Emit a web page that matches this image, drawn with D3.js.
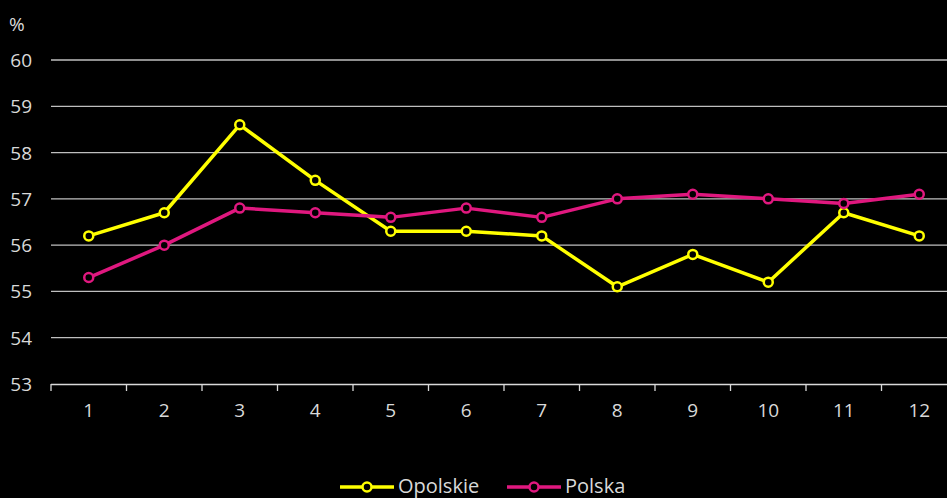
<!DOCTYPE html>
<html>
<head>
<meta charset="utf-8">
<script src="https://cdn.jsdelivr.net/npm/d3@7"></script>
<style>
  body { margin: 0; background: #000; }
  svg text { font-family: "Open Sans", sans-serif; fill: #d9d9d9; }
</style>
</head>
<body>
<svg id="chart" width="947" height="498"></svg>
<script>
// months 1..12
const months = ["1","2","3","4","5","6","7","8","9","10","11","12"]
const opolskie = [56.2, 56.7, 58.6, 57.4, 56.3, 56.3, 56.2, 55.1, 55.8, 55.2, 56.7, 56.2]
const polska = [55.3, 56.0, 56.8, 56.7, 56.6, 56.8, 56.6, 57.0, 57.1, 57.0, 56.9, 57.1]
const yTicks = [53, 54, 55, 56, 57, 58, 59, 60]

const seriesList = [
  { name: "Opolskie", values: opolskie, color: "#ffff00" },
  { name: "Polska", values: polska, color: "#e0187f" }
]

const svg = d3.select("#chart")

const x = d3.scaleBand().domain(months).range([51, 957])
const y = d3.scaleLinear().domain([53, 60]).range([384, 60])

// gridlines
svg.append("g")
  .selectAll("line")
  .data(yTicks.filter(d => d > 53))
  .join("line")
  .attr("x1", 51).attr("x2", 947)
  .attr("y1", d => y(d)).attr("y2", d => y(d))
  .attr("stroke", "#bfbfbf")
  .attr("stroke-width", 1.3)

// y labels
svg.append("g")
  .selectAll("text")
  .data(yTicks)
  .join("text")
  .attr("x", 32)
  .attr("y", d => y(d) + 7)
  .attr("text-anchor", "end")
  .attr("font-size", 19)
  .text(d => d)

svg.append("text")
  .attr("x", 9).attr("y", 31)
  .attr("font-size", 19)
  .text("%")

// x axis
const xAxis = d3.axisBottom(x).tickSize(0).tickPadding(0)
const gx = svg.append("g")
  .attr("transform", "translate(0,384)")
  .call(xAxis)
gx.select(".domain").remove()
gx.selectAll("text")
  .attr("dy", null)
  .attr("y", 33)
  .attr("font-size", 19)
  .attr("font-family", "Open Sans, sans-serif")
  .attr("fill", "#d9d9d9")

svg.append("line")
  .attr("x1", 51).attr("x2", 947)
  .attr("y1", 384.5).attr("y2", 384.5)
  .attr("stroke", "#d9d9d9").attr("stroke-width", 1.3)

svg.append("g")
  .selectAll("line")
  .data(months)
  .join("line")
  .attr("x1", d => x(d)).attr("x2", d => x(d))
  .attr("y1", 384).attr("y2", 391)
  .attr("stroke", "#d9d9d9").attr("stroke-width", 1.3)

// lines
const line = d3.line()
  .x((d, i) => x(months[i]) + x.bandwidth() / 2)
  .y(d => y(d))

seriesList.forEach(s => {
  svg.append("path")
    .datum(s.values)
    .attr("d", line)
    .attr("fill", "none")
    .attr("stroke", s.color)
    .attr("stroke-width", 3.5)
    .attr("stroke-linejoin", "round")
  svg.append("g")
    .selectAll("circle")
    .data(s.values)
    .join("circle")
    .attr("cx", (d, i) => x(months[i]) + x.bandwidth() / 2)
    .attr("cy", d => y(d))
    .attr("r", 4.5)
    .attr("fill", "#000")
    .attr("stroke", s.color)
    .attr("stroke-width", 2.5)
})

// legend
const legendX = [340, 507]
const legend = svg.append("g")
  .selectAll("g")
  .data(seriesList)
  .join("g")
  .attr("transform", (d, i) => `translate(${legendX[i]},487)`)
legend.append("line")
  .attr("x1", 0).attr("x2", 54)
  .attr("stroke", d => d.color).attr("stroke-width", 3.5)
legend.append("circle")
  .attr("cx", 27).attr("r", 4.5)
  .attr("fill", "#000")
  .attr("stroke", d => d.color).attr("stroke-width", 2.5)
legend.append("text")
  .attr("x", 58).attr("y", 6)
  .attr("font-size", 20)
  .text(d => d.name)
</script>
</body>
</html>
